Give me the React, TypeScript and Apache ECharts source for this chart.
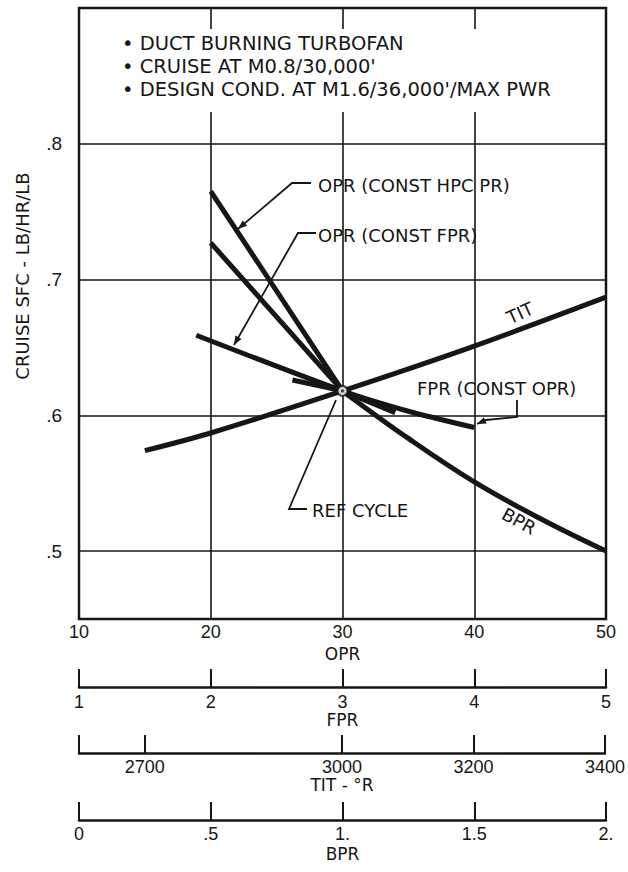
import React, { useEffect, useRef } from "react";
import * as echarts from "echarts";

// ---- data ----
const oprConstHpc: [number, number][] = [[20, 0.765], [30, 0.618]];
const oprConstFprUpper: [number, number][] = [[20, 0.727], [30, 0.618], [34, 0.602]];
const fprConstOpr: [number, number][] = [[18.9, 0.659], [30, 0.618], [35, 0.603], [40, 0.591]];
const titCurve: [number, number][] = [[15, 0.574], [20, 0.587], [30, 0.618], [40, 0.651], [50, 0.687]];
const bprStub: [number, number][] = [[26.2, 0.626], [30, 0.618]];
const bprCurve: [number, number][] = [[30, 0.618], [35, 0.583], [40, 0.551], [45, 0.524], [50, 0.5]];
const refCycle: [number, number][] = [[30, 0.618]];

const sfcTicks = [0.5, 0.6, 0.7, 0.8];
const fprRange = [1, 5];
const titTicks = [2600, 2700, 3000, 3200, 3400];
const titLabels = [2700, 3000, 3200, 3400];
const bprRange = [0, 2];
const bprLabels: Record<string, string> = { "0": "0", "0.5": ".5", "1": "1.", "1.5": "1.5", "2": "2." };
const notes = [
  "DUCT BURNING TURBOFAN",
  "CRUISE AT M0.8/30,000'",
  "DESIGN COND. AT M1.6/36,000'/MAX PWR",
];

const INK = "#161616";
const ANN = "'DejaVu Sans', 'Liberation Sans', sans-serif";
const TICK = "'Liberation Sans', Arial, sans-serif";

function arrowHead(tip: number[], from: number[], len = 9, half = 3.5) {
  const dx = tip[0] - from[0];
  const dy = tip[1] - from[1];
  const d = Math.hypot(dx, dy);
  const ux = dx / d, uy = dy / d;
  const bx = tip[0] - ux * len, by = tip[1] - uy * len;
  return {
    type: "polygon",
    shape: { points: [tip, [bx - uy * half, by + ux * half], [bx + uy * half, by - ux * half]] },
    style: { fill: INK },
    z: 6,
  };
}

function leader(points: number[][]) {
  return { type: "polyline", shape: { points }, style: { stroke: INK, lineWidth: 1.8, fill: null }, z: 6 };
}

function label(text: string, x: number, y: number, extra: any = {}) {
  return {
    type: "text",
    x,
    y,
    rotation: extra.rotation || 0,
    z: 7,
    style: {
      text,
      fill: INK,
      fontFamily: ANN,
      fontSize: extra.fontSize || 18,
      align: extra.align || "left",
      verticalAlign: "middle",
    },
  };
}

const lineSeries = (name: string, data: [number, number][], smooth: number | boolean = false) => ({
  type: "line",
  name,
  data,
  xAxisIndex: 0,
  yAxisIndex: 0,
  symbol: "none",
  smooth,
  lineStyle: { color: INK, width: 5, cap: "butt" },
  z: 3,
});

const subAxis = (gridIndex: number, name: string, extra: any) => ({
  type: "value",
  gridIndex,
  position: "bottom",
  name,
  nameLocation: "middle",
  nameGap: extra.nameGap,
  nameTextStyle: { fontFamily: ANN, fontSize: 17, color: INK },
  axisLine: { show: true, onZero: false, lineStyle: { color: INK, width: 2.5 } },
  axisTick: { show: true, inside: true, length: 18, lineStyle: { color: INK, width: 2 }, ...(extra.axisTick || {}) },
  axisLabel: {
    show: true,
    margin: extra.margin,
    fontFamily: TICK,
    fontSize: 18,
    color: INK,
    showMinLabel: true,
    showMaxLabel: true,
    ...(extra.axisLabel || {}),
  },
  splitLine: { show: false },
  min: extra.min,
  max: extra.max,
  interval: extra.interval,
});

export default function App() {
  const ref = useRef<HTMLDivElement>(null);
  useEffect(() => {
    if (!ref.current) return;
    const chart = echarts.init(ref.current, null, { renderer: "svg" });
    const option: any = {
      animation: false,
      backgroundColor: "#ffffff",
      grid: [
        { left: 79, top: 8, width: 527, height: 611, show: true, borderColor: INK, borderWidth: 2.5, backgroundColor: "transparent" },
        { left: 79, top: 667, width: 527, height: 20 },
        { left: 79, top: 733, width: 527, height: 20 },
        { left: 79, top: 800, width: 527, height: 20 },
      ],
      xAxis: [
        {
          type: "value",
          gridIndex: 0,
          min: 10,
          max: 50,
          interval: 10,
          name: "OPR",
          nameLocation: "middle",
          nameGap: 25,
          nameTextStyle: { fontFamily: ANN, fontSize: 17, color: INK },
          axisLine: { show: false },
          axisTick: { show: false },
          axisLabel: { margin: 4, fontFamily: TICK, fontSize: 18, color: INK, showMinLabel: true, showMaxLabel: true },
          splitLine: { show: true, lineStyle: { color: INK, width: 1.6 } },
        },
        subAxis(1, "FPR", { min: fprRange[0], max: fprRange[1], interval: 1, margin: 6, nameGap: 24 }),
        subAxis(2, "TIT - °R", {
          min: 2600,
          max: 3400,
          margin: 5,
          nameGap: 21,
          axisTick: { customValues: titTicks },
          axisLabel: { customValues: titLabels, formatter: (v: number) => String(v) },
        }),
        subAxis(3, "BPR", {
          min: bprRange[0],
          max: bprRange[1],
          interval: 0.5,
          margin: 5,
          nameGap: 25,
          axisLabel: { formatter: (v: number) => bprLabels[String(v)] ?? String(v) },
        }),
      ],
      yAxis: [
        {
          type: "value",
          gridIndex: 0,
          min: 0.45,
          max: 0.9,
          axisLine: { show: false },
          axisTick: { show: false, customValues: sfcTicks },
          axisLabel: {
            customValues: sfcTicks,
            margin: 17,
            fontFamily: TICK,
            fontSize: 19,
            color: INK,
            formatter: (v: number) => "." + Math.round(v * 10),
          },
          splitLine: { show: true, lineStyle: { color: INK, width: 1.6 } },
        },
        { type: "value", gridIndex: 1, show: false, min: 0, max: 1 },
        { type: "value", gridIndex: 2, show: false, min: 0, max: 1 },
        { type: "value", gridIndex: 3, show: false, min: 0, max: 1 },
      ],
      series: [
        lineSeries("OPR (CONST HPC PR)", oprConstHpc),
        lineSeries("OPR upper", oprConstFprUpper),
        lineSeries("FPR (CONST OPR)", fprConstOpr, 0.25),
        lineSeries("TIT", titCurve, 0.3),
        lineSeries("BPR stub", bprStub),
        lineSeries("BPR", bprCurve, 0.4),
        {
          type: "scatter",
          name: "REF CYCLE",
          data: refCycle,
          symbol: "circle",
          symbolSize: 10,
          itemStyle: { color: "#ffffff", borderColor: INK, borderWidth: 2 },
          z: 8,
        },
        {
          type: "scatter",
          name: "REF CYCLE dot",
          data: refCycle,
          symbol: "circle",
          symbolSize: 3,
          itemStyle: { color: INK },
          z: 9,
        },
      ],
      graphic: [
        { type: "rect", shape: { x: 112, y: 29, width: 488, height: 83 }, style: { fill: "#ffffff" }, z: 1 },
        ...notes.map((t, i) => label("\u2022 " + t, 122, 43 + i * 23, { fontSize: 19.5 })),
        label("CRUISE SFC - LB/HR/LB", 22, 276, { align: "center", rotation: Math.PI / 2, fontSize: 18 }),
        label("OPR (CONST HPC PR)", 318, 185),
        leader([[311, 183], [292, 183], [238, 229]]),
        arrowHead([238, 229], [292, 183]),
        label("OPR (CONST FPR)", 318, 235),
        leader([[316, 233], [298, 233], [234, 345]]),
        arrowHead([234, 345], [298, 233]),
        label("FPR (CONST OPR)", 417, 388),
        leader([[517, 400], [517, 417], [486, 420], [477, 424]]),
        arrowHead([477, 424], [486, 420]),
        label("REF CYCLE", 312, 510),
        leader([[307, 509], [289, 509], [336, 400]]),
        label("TIT", 520, 313, { align: "center", rotation: 0.42 }),
        label("BPR", 519, 521, { align: "center", rotation: -0.5 }),
      ],
    };
    chart.setOption(option);
    return () => chart.dispose();
  }, []);
  return (
    <div
      ref={ref}
      style={{ position: "fixed", left: 0, top: 0, width: 628, height: 872, background: "#fff" }}
    />
  );
}
